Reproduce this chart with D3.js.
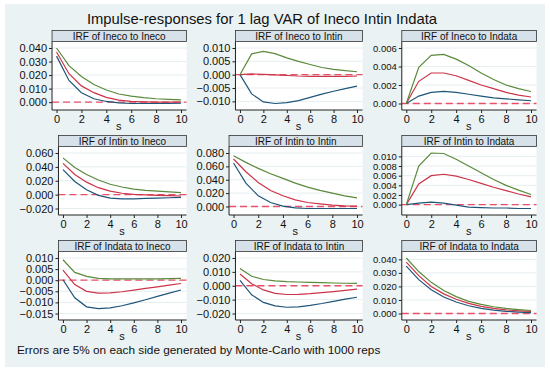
<!DOCTYPE html>
<html>
<head>
  <meta charset="UTF-8">
  <title>Impulse-responses</title>
  <style>
    body { margin: 0; background: white; font-family: 'Liberation Sans', Arial, sans-serif; }
    svg { display: block; }
    .tick text { font-size: 11px; fill: #111; }
    .col3 .ytick .tick text { font-size: 9.5px; }
    .tick line { stroke: #222; }
    .domain { stroke: #222; }
  </style>
</head>
<body>
  <svg id="chart" width="550" height="373"></svg>

  <script src="https://d3js.org/d3.v7.min.js"></script>
  <script>
    // horizon steps
    let steps = [0, 1, 2, 3, 4, 5, 6, 7, 8, 9, 10];
    let xTicks = [0, 2, 4, 6, 8, 10];

    // lower bound / irf / upper bound
    let inecoIneco_lo = [0.034, 0.016, 0.007, 0.0025, 0.0005, -0.0005, -0.001, -0.001, -0.001, -0.001, -0.0008];
    let inecoIneco_irf = [0.037, 0.021, 0.012, 0.007, 0.0035, 0.0015, 0.0006, 0.0002, 0.0, 0.0, 0.0];
    let inecoIneco_hi = [0.040, 0.027, 0.019, 0.013, 0.009, 0.006, 0.0045, 0.0033, 0.0025, 0.002, 0.0017];

    let inecoIntin_lo = [0, -0.0072, -0.0102, -0.0108, -0.0105, -0.0097, -0.0085, -0.0073, -0.0062, -0.0052, -0.0043];
    let inecoIntin_irf = [0, 0.0003, 0.0001, -0.0001, -0.0003, -0.0005, -0.0006, -0.0006, -0.0006, -0.0006, -0.0005];
    let inecoIntin_hi = [0, 0.0078, 0.0087, 0.0079, 0.0063, 0.005, 0.0038, 0.0027, 0.002, 0.0015, 0.0011];

    let inecoIndata_lo = [0, 0.0008, 0.0012, 0.0013, 0.0012, 0.001, 0.0008, 0.0006, 0.0005, 0.0004, 0.0003];
    let inecoIndata_irf = [0, 0.0024, 0.0033, 0.0033, 0.003, 0.0025, 0.002, 0.0016, 0.0012, 0.0009, 0.0007];
    let inecoIndata_hi = [0, 0.0039, 0.0052, 0.0053, 0.0048, 0.0041, 0.0033, 0.0026, 0.002, 0.0016, 0.0013];

    let intinIneco_lo = [0.036, 0.019, 0.007, -0.001, -0.005, -0.006, -0.006, -0.0055, -0.005, -0.0045, -0.004];
    let intinIneco_irf = [0.045, 0.029, 0.018, 0.010, 0.005, 0.002, 0.0005, -0.0005, -0.001, -0.0015, -0.002];
    let intinIneco_hi = [0.053, 0.039, 0.029, 0.021, 0.015, 0.011, 0.008, 0.006, 0.005, 0.004, 0.003];

    let intinIntin_lo = [0.065, 0.035, 0.016, 0.006, 0.0005, -0.002, -0.003, -0.003, -0.003, -0.003, -0.003];
    let intinIntin_irf = [0.071, 0.052, 0.036, 0.024, 0.016, 0.010, 0.006, 0.004, 0.002, 0.001, 0.0005];
    let intinIntin_hi = [0.076, 0.066, 0.057, 0.049, 0.042, 0.035, 0.029, 0.024, 0.020, 0.016, 0.013];

    let intinIndata_lo = [0, 0.0003, 0.0005, 0.0003, -0.0001, -0.0005, -0.0006, -0.0007, -0.0007, -0.0008, -0.0008];
    let intinIndata_irf = [0, 0.0043, 0.006, 0.0063, 0.0059, 0.0052, 0.0044, 0.0036, 0.0029, 0.0022, 0.0016];
    let intinIndata_hi = [0, 0.008, 0.0107, 0.0106, 0.0094, 0.008, 0.0066, 0.0052, 0.004, 0.003, 0.0021];

    let indataIneco_lo = [0.0002, -0.0079, -0.012, -0.0128, -0.0125, -0.0115, -0.0102, -0.0088, -0.0073, -0.0058, -0.0044];
    let indataIneco_irf = [0.0045, -0.002, -0.005, -0.0058, -0.0057, -0.0052, -0.0045, -0.0037, -0.003, -0.0022, -0.0015];
    let indataIneco_hi = [0.0092, 0.0035, 0.0017, 0.0008, 0.0006, 0.0006, 0.0006, 0.0006, 0.0006, 0.0007, 0.0008];

    let indataIntin_lo = [0.0038, -0.0065, -0.012, -0.0145, -0.0155, -0.0152, -0.0142, -0.0128, -0.0112, -0.0097, -0.0083];
    let indataIntin_irf = [0.0085, 0.0015, -0.003, -0.0055, -0.0063, -0.0062, -0.0057, -0.005, -0.0042, -0.0033, -0.0025];
    let indataIntin_hi = [0.0125, 0.0068, 0.0045, 0.0035, 0.003, 0.0027, 0.0025, 0.0023, 0.002, 0.0018, 0.0017];

    let indataIndata_lo = [0.035, 0.025, 0.0175, 0.0122, 0.0085, 0.0057, 0.0038, 0.0025, 0.0016, 0.001, 0.0006];
    let indataIndata_irf = [0.038, 0.028, 0.020, 0.0145, 0.0105, 0.0075, 0.0053, 0.0038, 0.0027, 0.002, 0.0015];
    let indataIndata_hi = [0.041, 0.031, 0.023, 0.017, 0.0125, 0.009, 0.0068, 0.005, 0.0038, 0.0029, 0.0022];

    // y ticks of each panel
    let ticks_inecoIneco = [0, 0.01, 0.02, 0.03, 0.04];
    let ticks_inecoIntin = [-0.01, -0.005, 0, 0.005, 0.01];
    let ticks_inecoIndata = [0, 0.002, 0.004, 0.006];
    let ticks_intinIneco = [-0.02, 0, 0.02, 0.04, 0.06];
    let ticks_intinIntin = [0, 0.02, 0.04, 0.06, 0.08];
    let ticks_intinIndata = [0, 0.002, 0.004, 0.006, 0.008, 0.01];
    let ticks_indataIneco = [-0.015, -0.01, -0.005, 0, 0.005, 0.01];
    let ticks_indataIntin = [-0.02, -0.01, 0, 0.01, 0.02];
    let ticks_indataIndata = [0, 0.01, 0.02, 0.03, 0.04];

    let panels = [
      { title: "IRF of Ineco to Ineco", lo: inecoIneco_lo, irf: inecoIneco_irf, hi: inecoIneco_hi, ticks: ticks_inecoIneco },
      { title: "IRF of Ineco to Intin", lo: inecoIntin_lo, irf: inecoIntin_irf, hi: inecoIntin_hi, ticks: ticks_inecoIntin },
      { title: "IRF of Ineco to Indata", lo: inecoIndata_lo, irf: inecoIndata_irf, hi: inecoIndata_hi, ticks: ticks_inecoIndata },
      { title: "IRF of Intin to Ineco", lo: intinIneco_lo, irf: intinIneco_irf, hi: intinIneco_hi, ticks: ticks_intinIneco },
      { title: "IRF of Intin to Intin", lo: intinIntin_lo, irf: intinIntin_irf, hi: intinIntin_hi, ticks: ticks_intinIntin },
      { title: "IRF of Intin to Indata", lo: intinIndata_lo, irf: intinIndata_irf, hi: intinIndata_hi, ticks: ticks_intinIndata },
      { title: "IRF of Indata to Ineco", lo: indataIneco_lo, irf: indataIneco_irf, hi: indataIneco_hi, ticks: ticks_indataIneco },
      { title: "IRF of Indata to Intin", lo: indataIntin_lo, irf: indataIntin_irf, hi: indataIntin_hi, ticks: ticks_indataIntin },
      { title: "IRF of Indata to Indata", lo: indataIndata_lo, irf: indataIndata_irf, hi: indataIndata_hi, ticks: ticks_indataIndata }
    ];

    // layout of the 3x3 grid
    let colLeft = [19.5, 196.5, 373];
    let colRight = [186.5, 362.5, 536.5];
    let rowTop = [30.5, 135.5, 240.5];
    let rowBottom = [110, 215, 320];
    let headH = 11;

    let colors = { lo: "#1f5579", irf: "#cc3448", hi: "#5a8a3a", zero: "#e8506a" };

    let svg = d3.select("#chart");

    // graph region background
    svg.append("rect")
      .attr("x", 5).attr("y", 4)
      .attr("width", 540).attr("height", 363)
      .attr("fill", "#eaf2f3");

    svg.append("text")
      .attr("x", 262).attr("y", 24)
      .attr("text-anchor", "middle")
      .style("font-size", "14.8px")
      .attr("fill", "#111")
      .text("Impulse-responses for 1 lag VAR of Ineco Intin Indata");

    panels.forEach((p, i) => {
      let r = Math.floor(i / 3), c = i % 3;
      let g = svg.append("g").attr("class", "col" + (c + 1));

      let fmt = d3.format(".3f");

      // measure widest tick label to place the y axis
      let probe = g.append("g").attr("class", "ytick").append("g").attr("class", "tick");
      let maxW = 0;
      p.ticks.forEach(t => {
        let tt = probe.append("text").text(fmt(t));
        maxW = Math.max(maxW, tt.node().getComputedTextLength());
      });
      probe.node().parentNode.remove();

      let left = colLeft[c] + maxW + 5;
      let right = colRight[c];
      let top = rowTop[r] + headH;
      let bottom = rowBottom[r];

      let all = p.lo.concat(p.irf, p.hi, p.ticks);
      let y = d3.scaleLinear()
        .domain([d3.min(all), d3.max(all)])
        .range([bottom - 6.5, top + 6.5]);
      let x = d3.scaleLinear()
        .domain([0, 10])
        .range([left + 4.5, right - 5.5]);

      // plot region
      g.append("rect")
        .attr("x", left).attr("y", top)
        .attr("width", right - left).attr("height", bottom - top)
        .attr("fill", "white");

      // grid
      g.selectAll(".grid")
        .data(p.ticks)
        .enter()
        .append("line")
        .attr("x1", left).attr("x2", right)
        .attr("y1", d => y(d)).attr("y2", d => y(d))
        .attr("stroke", "#e6eef0")
        .attr("stroke-width", 1);

      // header box
      g.append("rect")
        .attr("x", left).attr("y", rowTop[r])
        .attr("width", right - left).attr("height", headH)
        .attr("fill", "#d6e1e9")
        .attr("stroke", "#333")
        .attr("stroke-width", 0.8);
      g.append("text")
        .attr("x", (left + right) / 2).attr("y", rowTop[r] + 9)
        .attr("text-anchor", "middle")
        .style("font-size", "10px")
        .attr("fill", "#111")
        .text(p.title);

      // zero line
      g.append("line")
        .attr("x1", left).attr("x2", right)
        .attr("y1", y(0)).attr("y2", y(0))
        .attr("stroke", colors.zero)
        .attr("stroke-width", 1.3)
        .attr("stroke-dasharray", "7,4");

      let line = d3.line()
        .x((d, j) => x(steps[j]))
        .y(d => y(d));

      ["lo", "irf", "hi"].forEach(k => {
        g.append("path")
          .datum(p[k])
          .attr("d", line)
          .attr("fill", "none")
          .attr("stroke", colors[k])
          .attr("stroke-width", 1.2);
      });

      // axes
      g.append("g")
        .attr("class", "ytick")
        .attr("transform", "translate(" + left + ",0)")
        .call(d3.axisLeft(y).tickValues(p.ticks).tickFormat(fmt).tickSize(3).tickPadding(2))
        .call(a => a.select(".domain").attr("d", "M0," + bottom + "V" + top));

      g.append("g")
        .attr("transform", "translate(0," + bottom + ")")
        .call(d3.axisBottom(x).tickValues(xTicks).tickFormat(d3.format("d")).tickSize(3).tickPadding(2))
        .call(a => a.select(".domain").attr("d", "M" + left + ",0H" + right));

      g.append("text")
        .attr("x", (x(0) + x(10)) / 2).attr("y", bottom + 20)
        .attr("text-anchor", "middle")
        .style("font-size", "11px")
        .attr("fill", "#111")
        .text("s");
    });

    svg.append("text")
      .attr("x", 17).attr("y", 354)
      .style("font-size", "11.8px")
      .attr("fill", "#111")
      .text("Errors are 5% on each side generated by Monte-Carlo with 1000 reps");
  </script>
</body>
</html>
